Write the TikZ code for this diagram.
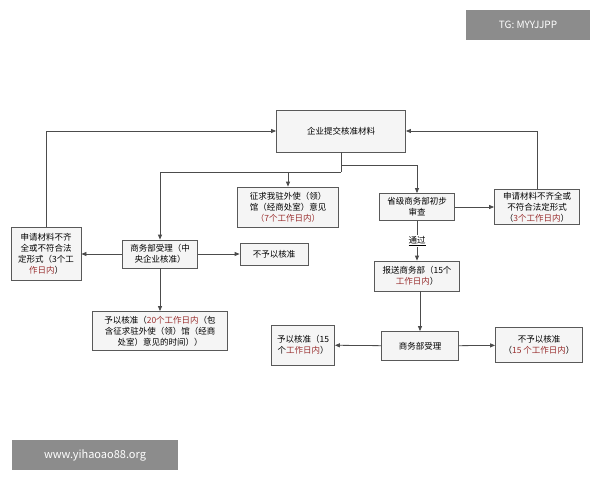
\documentclass[tikz,border=0pt]{standalone}
\usepackage{fontspec}
\setmainfont{Noto Sans CJK SC}
\usetikzlibrary{arrows.meta}
\definecolor{dr}{HTML}{9A3030}
\newcommand{\rd}[1]{\textcolor{dr}{#1}}
\tikzset{
 bx/.style={draw=black!65,line width=0.8pt,fill=black!4,align=center,font=\fontsize{8.5}{11}\selectfont,inner sep=1pt},
 ar/.style={draw=black!70,line width=0.8pt,-{Triangle[length=5pt,width=4pt]}},
 ln/.style={draw=black!70,line width=0.8pt}
}
\begin{document}
\begin{tikzpicture}[x=1pt,y=-1pt]
\useasboundingbox[fill=white] (0,0) rectangle (600,480);
\node[bx,minimum width=129,minimum height=42] (top) at (341,131) {企业提交核准材料};
\node[bx,minimum width=101,minimum height=40] (emb) at (288,207) {征求我驻外使（领）\\馆（经商处室）意见\\\rd{（7个工作日内）}};
\node[bx,minimum width=75,minimum height=28] (cen) at (160,254) {商务部受理（中\\央企业核准）};
\node[bx,minimum width=70,minimum height=53] (lf) at (46,254) {申请材料不齐\\全或不符合法\\定形式（3个工\\\rd{作日内}）};
\node[bx,minimum width=68,minimum height=22] (no1) at (274,254) {不予以核准};
\node[bx,minimum width=135,minimum height=39] (yes1) at (160,331) {予以核准（\rd{20个工作日内}（包\\含征求驻外使（领）馆（经商\\处室）意见的时间））};
\node[bx,minimum width=75,minimum height=27] (prov) at (417,207) {省级商务部初步\\审查};
\node[bx,minimum width=85,minimum height=35] (rt) at (537,207) {申请材料不齐全或\\不符合法定形式\\（\rd{3个工作日内}）};
\node[bx,minimum width=85,minimum height=30] (sub) at (417,276) {报送商务部（15个\\\rd{工作日内}）};
\node[bx,minimum width=77,minimum height=29] (acc) at (420,346) {商务部受理};
\node[bx,minimum width=63,minimum height=40] (yes2) at (303,345) {予以核准（15\\个\rd{工作日内}）};
\node[bx,minimum width=87,minimum height=35] (no2) at (539,345) {不予以核准\\（\rd{15 个工作日内}）};
\coordinate (j) at (341,172);
\coordinate (k) at (341,165);
\draw[ln] (top.south) -- (j);
\draw[ar] (j) -| (cen.north);
\draw[ar] (emb.north |- j) -- (emb.north);
\draw[ar] (k) -| (prov.north);
\draw[ar] (lf.north) |- (top.west);
\draw[ar] (rt.north) |- (top.east);
\draw[ar] (cen) -- (lf);
\draw[ar] (cen) -- (no1);
\draw[ar] (cen) -- (yes1);
\draw[ar] (prov) -- (rt);
\draw[ar] (prov) -- node[fill=white,font=\fontsize{8.5}{10}\selectfont,inner sep=1pt] (pass) {\underline{通过}} (sub);
\draw[ar] (sub.south -| acc) -- (acc);
\draw[ar] (acc) -- (yes2);
\draw[ar] (acc) -- (no2);
\node[fill=black!45,text=white,minimum width=124,minimum height=30,font=\fontsize{10}{12}\selectfont] (tg) at (528,25) {TG: MYYJJPP};
\node[fill=black!45,text=white,minimum width=166,minimum height=30,font=\fontsize{11}{13}\selectfont] (wm) at (95,455) {www.yihaoao88.org};
\end{tikzpicture}
\end{document}
